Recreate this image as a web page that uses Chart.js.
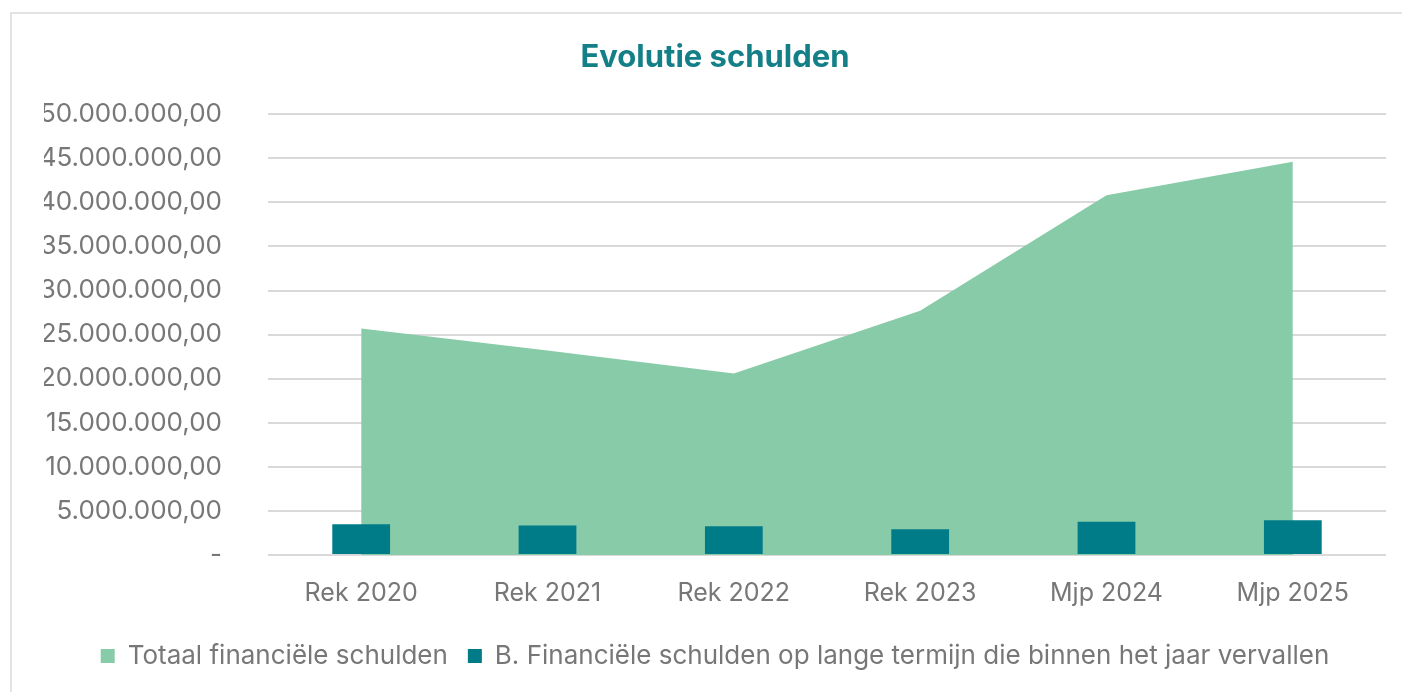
<!DOCTYPE html>
<html>
<head>
<meta charset="utf-8">
<script src="https://cdn.jsdelivr.net/npm/chart.js@4"></script>
<style>
  body { margin: 0; background: #fff; }
  #wrap {
    position: absolute; left: 10px; top: 12px;
    width: 1400px; height: 690px;
    border-top: 2px solid #e3e3e3; border-left: 2px solid #e3e3e3;
    box-sizing: border-box;
  }
</style>
</head>
<body>
<div id="wrap"><canvas id="myChart"></canvas></div>
<script>
const labels = ["Rek 2020", "Rek 2021", "Rek 2022", "Rek 2023", "Mjp 2024", "Mjp 2025"];
const totaal = [25700000, 23200000, 20600000, 27700000, 40800000, 44600000];
const kortlopend = [3500000, 3350000, 3250000, 2920000, 3780000, 3950000];

const green = "#88cba8";
const teal = "#007c89";
const grey = "#777777";
const font = "Inter, 'Noto Sans', sans-serif";

function fmt(v) {
  if (v === 0) return "-";
  let s = Math.round(v).toString().replace(/\B(?=(\d{3})+(?!\d))/g, ".");
  return s + ",00";
}

const ctx = document.getElementById("myChart");

new Chart(ctx, {
  data: {
    labels: labels,
    datasets: [
      {
        type: "line",
        label: "Totaal financiële schulden",
        data: totaal,
        fill: "origin",
        backgroundColor: green,
        borderColor: green,
        borderWidth: 0,
        pointRadius: 0,
        tension: 0,
        order: 2,
      },
      {
        type: "bar",
        label: "B. Financiële schulden op lange termijn die binnen het jaar vervallen",
        data: kortlopend,
        backgroundColor: teal,
        barPercentage: 0.62,
        categoryPercentage: 0.5,
        order: 1,
      },
    ],
  },
  options: {
    responsive: true,
    maintainAspectRatio: false,
    animation: false,
    layout: { padding: { left: 32, right: 24, top: 0, bottom: 23 } },
    plugins: {
      title: {
        display: true,
        text: "Evolutie schulden",
        color: "#137f87",
        font: { family: font, size: 31, weight: "bold" },
        padding: { top: 25, bottom: 38 },
      },
      legend: {
        position: "bottom",
        labels: {
          color: grey,
          font: { family: font, size: 26 },
          boxWidth: 14,
          boxHeight: 14,
          padding: 20,
          sort: (a, b) => a.datasetIndex - b.datasetIndex,
        },
      },
      tooltip: { enabled: false },
    },
    scales: {
      x: {
        offset: true,
        grid: { display: false },
        border: { display: false },
        ticks: { color: grey, font: { family: font, size: 25 }, padding: 15 },
      },
      y: {
        min: 0,
        max: 50000000,
        grid: { color: "#d9d9d9", lineWidth: 2, drawTicks: false },
        border: { display: false },
        ticks: {
          stepSize: 5000000,
          color: grey,
          font: { family: font, size: 26 },
          padding: 46,
          callback: (v) => fmt(v),
        },
        afterFit: (scale) => {
          scale.width = 224;
        },
      },
    },
  },
});
</script>
</body>
</html>
